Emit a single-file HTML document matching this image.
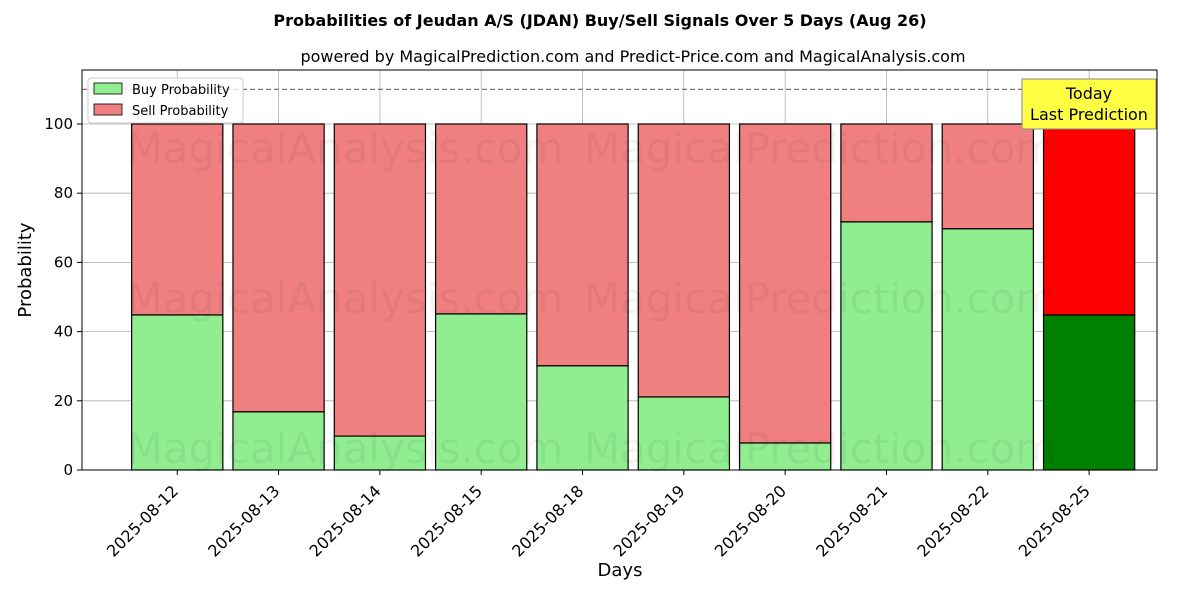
<!DOCTYPE html>
<html><head><meta charset="utf-8">
<style>
body{margin:0;background:#fff;font-family:"Liberation Sans","DejaVu Sans",sans-serif;}
svg text{font-family:"DejaVu Sans","Liberation Sans",sans-serif;}
</style></head>
<body>
<svg id="chart" width="1200" height="600" xmlns="http://www.w3.org/2000/svg">
<text x="600" y="26" text-anchor="middle" font-size="16" font-weight="bold">Probabilities of Jeudan A/S (JDAN) Buy/Sell Signals Over 5 Days (Aug 26)</text>
<text x="633" y="62" text-anchor="middle" font-size="16">powered by MagicalPrediction.com and Predict-Price.com and MagicalAnalysis.com</text>
<g id="grid"></g>
<g id="bars"></g>
<g id="wm" fill="#000" fill-opacity="0.05" font-size="42">
<text x="345" y="163" text-anchor="middle">MagicalAnalysis.com</text>
<text x="820" y="163" text-anchor="middle">MagicalPrediction.com</text>
<text x="345" y="313" text-anchor="middle">MagicalAnalysis.com</text>
<text x="820" y="313" text-anchor="middle">MagicalPrediction.com</text>
<text x="345" y="463" text-anchor="middle">MagicalAnalysis.com</text>
<text x="820" y="463" text-anchor="middle">MagicalPrediction.com</text>
</g>
<g id="axes"></g>
<g>
<rect x="88" y="78" width="155" height="45" fill="#fff" fill-opacity="0.8" stroke="#ccc" rx="3"/>
<rect x="94" y="83" width="28" height="11" fill="#90ee90" stroke="#000" stroke-width="0.8"/>
<text x="132" y="94" font-size="13">Buy Probability</text>
<rect x="94" y="104" width="28" height="11" fill="#f08080" stroke="#000" stroke-width="0.8"/>
<text x="132" y="115" font-size="13">Sell Probability</text>
</g>
<g>
<rect x="1022" y="79" width="134" height="50" fill="#ffff44" stroke="#888" stroke-width="1"/>
<text x="1089" y="99" text-anchor="middle" font-size="16">Today</text>
<text x="1089" y="120" text-anchor="middle" font-size="16">Last Prediction</text>
</g>
<text x="620" y="576" text-anchor="middle" font-size="18">Days</text>
<text transform="translate(31,270) rotate(-90)" text-anchor="middle" font-size="18">Probability</text>
</svg>
<script>
const categories=["2025-08-12","2025-08-13","2025-08-14","2025-08-15","2025-08-18","2025-08-19","2025-08-20","2025-08-21","2025-08-22","2025-08-25"];
const buyValues=[44.8,16.8,9.8,45.1,30.1,21.1,7.8,71.7,69.7,44.8];
const yTicks=[0,20,40,60,80,100];
const thresholdLine=[110];
const L=82,R=1157,T=70,B=470;
const xMin=-0.94,xMax=9.67,yMin=0,yMax=115.6;
const xs=i=>L+(i-xMin)/(xMax-xMin)*(R-L);
const ys=v=>B-(v-yMin)/(yMax-yMin)*(B-T);
const NS="http://www.w3.org/2000/svg";
function mk(tag,attrs,parent){const e=document.createElementNS(NS,tag);for(const k in attrs)e.setAttribute(k,attrs[k]);parent.appendChild(e);return e;}
const grid=document.getElementById('grid'),bars=document.getElementById('bars'),axes=document.getElementById('axes');
yTicks.forEach(t=>{const l=mk('line',{x1:L,x2:R,y1:ys(t),y2:ys(t),stroke:'#b0b0b0','stroke-width':0.8},grid);


const tk=mk('line',{x1:L-5,x2:L,y1:ys(t),y2:ys(t),stroke:'#000'},axes);


const tx=mk('text',{x:L-9,y:ys(t)+5,'text-anchor':'end','font-size':15},axes);tx.textContent=t;

});
categories.forEach((c,i)=>{const x=xs(i);
const g=mk('line',{x1:x,x2:x,y1:T,y2:B,stroke:'#b0b0b0','stroke-width':0.8},grid);


const w=xs(0.45)-xs(0);const last=i===categories.length-1;
const b=buyValues[i];
const s=mk('rect',{x:x-w,y:ys(100),width:2*w,height:ys(b)-ys(100),fill:last?'#ff0000':'#f08080',stroke:'#000','stroke-width':1.2},bars);


const r=mk('rect',{x:x-w,y:ys(b),width:2*w,height:ys(0)-ys(b),fill:last?'#008000':'#90ee90',stroke:'#000','stroke-width':1.2},bars);


const tk=mk('line',{x1:x,x2:x,y1:B,y2:B+5,stroke:'#000'},axes);


const ax=x+2,ay=B+22;
const tx=mk('text',{x:ax,y:ay,'text-anchor':'end','font-size':16,transform:`rotate(-45 ${ax} ${ay})`},axes);tx.textContent=c;

});
const d=mk('line',{x1:L,x2:R,y1:ys(thresholdLine[0]),y2:ys(thresholdLine[0]),stroke:'#777','stroke-width':1.2,'stroke-dasharray':'5,3'},bars);


const f=mk('rect',{x:L,y:T,width:R-L,height:B-T,fill:'none',stroke:'#000','stroke-width':1},axes);


</script>
</body></html>
